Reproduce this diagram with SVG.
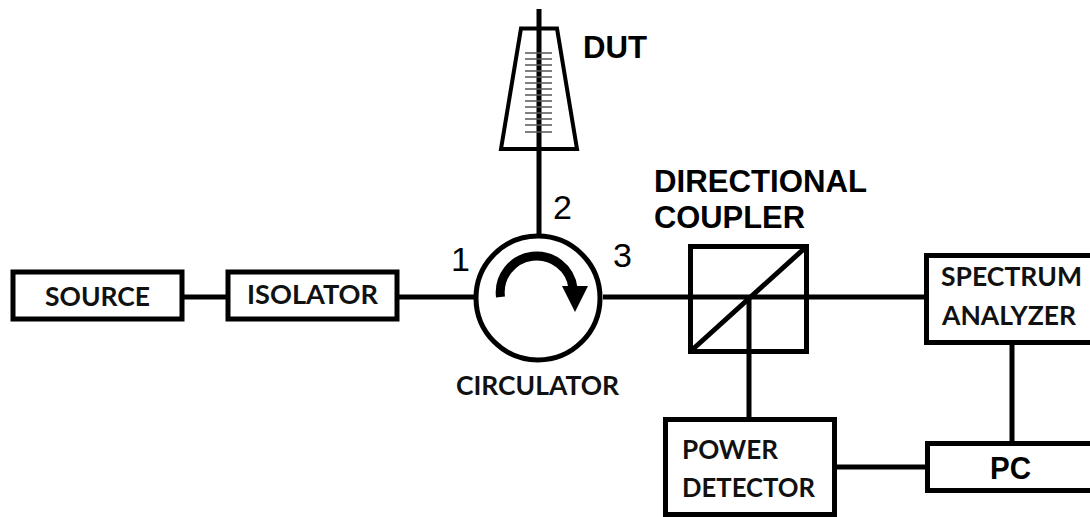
<svg xmlns="http://www.w3.org/2000/svg" width="1090" height="517" viewBox="0 0 1090 517">
<style>
.box{fill:none;stroke:#000;stroke-width:5}
.line{fill:none;stroke:#000;stroke-width:5}
.lbl{font-family:"Lato","Liberation Sans",sans-serif;font-weight:700;font-size:27px;fill:#111}
.ar{font-family:"Liberation Sans",Arial,sans-serif;font-weight:700;font-size:31px;fill:#000}
.num{font-family:"Liberation Sans",Arial,sans-serif;font-size:34px;fill:#000}
.tick{stroke:#555;stroke-width:1.6}
</style>
<rect width="1090" height="517" fill="#fff"/>
<g id="connectors">
<path class="line" d="M184 297H227M398 297H476M539 9V234M603 297H924M749 297V417M1012 345V441M837 467H925"/>
</g>
<g id="source"><rect class="box" x="13" y="272" width="169" height="47"/><text class="lbl" x="45" y="306" textLength="105" lengthAdjust="spacingAndGlyphs">SOURCE</text></g>
<g id="isolator"><rect class="box" x="228" y="272" width="169" height="47"/><text class="lbl" x="247" y="304" textLength="131" lengthAdjust="spacingAndGlyphs">ISOLATOR</text></g>
<g id="dut">
<path d="M521 28.500H557L577 149H501Z" fill="none" stroke="#000" stroke-width="4"/>
<path class="tick" d="M525 53H552M525 59H552M525 65H552M525 71H552M525 77H552M525 83H552M525 89H552M525 95H552M525 101H552M525 107H552M525 113H552M525 119H552M525 125H552M525 132H552"/>
<text class="ar" x="583" y="58" textLength="64" lengthAdjust="spacingAndGlyphs">DUT</text>
</g>
<g id="circulator">
<circle class="box" cx="538" cy="298" r="62"/>
<path d="M500.500 297A36.500 36.500 0 0 1 573 288" fill="none" stroke="#000" stroke-width="9"/>
<path d="M562 286L588 286L575 312Z" fill="#000"/>
<text class="num" x="451" y="271">1</text>
<text class="num" x="553" y="219">2</text>
<text class="num" x="613" y="267">3</text>
<text class="lbl" x="456" y="395" textLength="163" lengthAdjust="spacingAndGlyphs">CIRCULATOR</text>
</g>
<g id="directional-coupler">
<rect class="box" x="690.500" y="246.500" width="116" height="105"/>
<path class="line" d="M692 350L806 247"/>
<text class="ar" x="654" y="192" textLength="213" lengthAdjust="spacingAndGlyphs">DIRECTIONAL</text>
<text class="ar" x="654" y="228" textLength="151" lengthAdjust="spacingAndGlyphs">COUPLER</text>
</g>
<g id="spectrum-analyzer"><rect class="box" x="926.500" y="255.500" width="170" height="87"/><text class="lbl" x="941" y="286" textLength="141" lengthAdjust="spacingAndGlyphs">SPECTRUM</text><text class="lbl" x="942" y="325" textLength="134" lengthAdjust="spacingAndGlyphs">ANALYZER</text></g>
<g id="power-detector"><rect class="box" x="665.500" y="419.500" width="169" height="95"/><text class="lbl" x="682" y="459" textLength="96" lengthAdjust="spacingAndGlyphs">POWER</text><text class="lbl" x="682" y="497" textLength="133" lengthAdjust="spacingAndGlyphs">DETECTOR</text></g>
<g id="pc"><rect class="box" x="927.500" y="443.500" width="170" height="47"/><text class="ar" x="990" y="479" textLength="41" lengthAdjust="spacingAndGlyphs">PC</text></g>
</svg>
